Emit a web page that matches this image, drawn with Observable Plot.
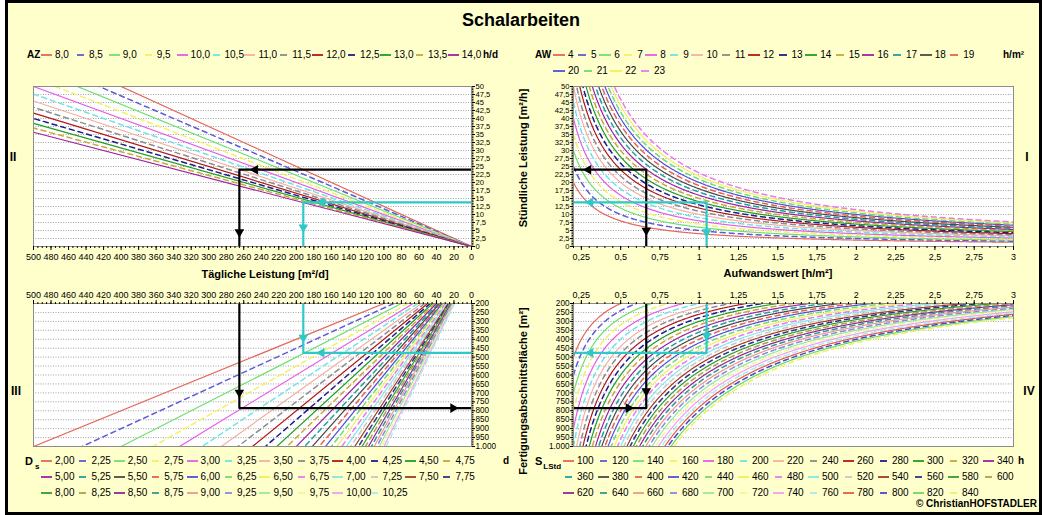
<!DOCTYPE html>
<html><head><meta charset="utf-8">
<script src="https://cdn.jsdelivr.net/npm/d3@7"></script>
<script src="https://cdn.jsdelivr.net/npm/@observablehq/plot@0.6"></script>
<style>
body{margin:0;background:#fff;}
#wrap{position:relative;width:1042px;height:515px;overflow:hidden;font-family:"Liberation Sans",Arial,sans-serif;color:#000;}
#border{position:absolute;left:5px;top:0;width:1031px;height:509px;border:3px solid #000;background:#ffffcc;}
.abs{position:absolute;white-space:nowrap;line-height:1;}
.q{position:absolute;}
.flex{position:absolute;display:flex;align-items:center;white-space:nowrap;font-size:10px;line-height:1;}
</style>
</head><body>
<div id="wrap"><div id="border"></div></div>
<script>
// ---------- data ----------
const azValues = [8.0, 8.5, 9.0, 9.5, 10.0, 10.5, 11.0, 11.5, 12.0, 12.5, 13.0, 13.5, 14.0];
const akValues = [4, 5, 6, 7, 8, 9, 10, 11, 12, 13, 14, 15, 16, 17, 18, 19, 20, 21, 22, 23];
const dsValues = [2.00, 2.25, 2.50, 2.75, 3.00, 3.25, 3.50, 3.75, 4.00, 4.25, 4.50, 4.75,
                  5.00, 5.25, 5.50, 5.75, 6.00, 6.25, 6.50, 6.75, 7.00, 7.25, 7.50, 7.75,
                  8.00, 8.25, 8.50, 8.75, 9.00, 9.25, 9.50, 9.75, 10.00, 10.25];
const slValues = [100, 120, 140, 160, 180, 200, 220, 240, 260, 280, 300, 320, 340,
                  360, 380, 400, 420, 440, 460, 480, 500, 520, 540, 560, 580, 600,
                  620, 640, 660, 680, 700, 720, 740, 760, 780, 800, 820, 840];
const seriesColors = ["#e4665c","#5c5cd6","#6ee06e","#f4f060","#e65ce6","#70e4e4","#f2b0a4","#8c8c8c",
  "#b01818","#1c1c8c","#1f9f1f","#c8a838","#a020a0","#20a0a0","#4a4a4a","#e86050","#5050d8","#70dc70",
  "#f0f058","#ec78ec","#80e8e8","#c8c8c8","#a03828","#30308c","#309c30","#b0a048","#902890","#309898",
  "#f09888","#8888e0","#98e898","#f4f4a0","#f0a0f0","#a8ecec","#e85848","#4848c8","#68d868","#f0f060"];

const lhTicks = [0, 2.5, 5, 7.5, 10, 12.5, 15, 17.5, 20, 22.5, 25, 27.5, 30, 32.5, 35, 37.5, 40, 42.5, 45, 47.5, 50];
const ldTicks = [0, 20, 40, 60, 80, 100, 120, 140, 160, 180, 200, 220, 240, 260, 280, 300, 320, 340, 360, 380, 400, 420, 440, 460, 480, 500];
const awTicks = [0.25, 0.5, 0.75, 1, 1.25, 1.5, 1.75, 2, 2.25, 2.5, 2.75, 3];
const areaTicks = [200, 250, 300, 350, 400, 450, 500, 550, 600, 650, 700, 750, 800, 850, 900, 950, 1000];

// guide paths (black, cyan)
const guideColors = ["#000000", "#2ec8c8"];
const guideAW = [0.663, 1.047];
const guideLh = [24.0, 13.8];
const guideLd = [265, 192];
const guideArea = [785, 476];
// arrow heads: [guide, x, y, direction]
const arrowsQ1 = [[0, 0.663, 5, "down"], [0, 0.295, 24, "left"], [1, 1.047, 4.5, "down"], [1, 0.308, 13.8, "left"]];
const arrowsQ2 = [[0, 247, 24, "left"], [0, 265, 4.5, "down"], [1, 171, 13.8, "left"], [1, 192, 6, "down"]];
const arrowsQ3 = [[0, 265, 698, "down"], [0, 21, 785, "right"], [1, 192, 390, "down"], [1, 171, 476, "left"]];
const arrowsQ4 = [[0, 0.55, 785, "right"], [0, 0.663, 690, "down"], [1, 1.047, 380, "down"], [1, 0.308, 476, "left"]];

// ---------- helpers ----------
const wrap = document.getElementById("wrap");
const rot = {up: 0, right: 90, down: 180, left: 270};
const fmtDec = d => String(d).replace(".", ",");
const fmtArea = d => d >= 1000 ? "1." + String(d).slice(1) : String(d);
const AWMIN = 0.2, AWMAX = 3;
const awGrid = d3.range(AWMIN, AWMAX + 1e-9, 0.005);
const dashOf = i => i % 2 ? "5,4" : null;
const widthOf = i => i % 2 ? 1.5 : 1.2;
const font = {fontFamily: "'Liberation Sans', Arial, sans-serif", fontSize: "9px", background: "transparent", overflow: "visible"};
const yFont = 7.6;

function seriesMark(data, i, x, y) {
  return Plot.line(data, {x, y, stroke: seriesColors[i], strokeWidth: widthOf(i), strokeDasharray: dashOf(i), clip: true});
}
function guideMarks(paths, arrows) {
  const m = [];
  paths.forEach((p, g) => m.push(Plot.line(p, {x: "x", y: "y", stroke: guideColors[g], strokeWidth: 2.2, clip: true})));
  [0, 1].forEach(g => {
    const a = arrows.filter(d => d[0] === g).map(d => ({x: d[1], y: d[2], r: rot[d[3]]}));
    m.push(Plot.dot(a, {x: "x", y: "y", symbol: "triangle2", r: 4.6, fill: guideColors[g], stroke: "none", rotate: "r"}));
  });
  return m;
}
function place(svg, left, top) {
  const d = document.createElement("div");
  d.className = "q"; d.style.left = left + "px"; d.style.top = top + "px";
  d.appendChild(svg); wrap.appendChild(d);
}
function addText(html, x, y, {size = 10, bold = false, align = "left", rotate = 0} = {}) {
  const el = document.createElement("div");
  el.className = "abs";
  el.innerHTML = html;
  el.style.left = x + "px"; el.style.top = y + "px";
  el.style.fontSize = size + "px";
  el.style.fontWeight = bold ? "bold" : "normal";
  const tx = align === "center" ? "-50%" : align === "right" ? "-100%" : "0";
  el.style.transform = `translate(${tx},-50%)` + (rotate ? ` rotate(${rotate}deg)` : "");
  wrap.appendChild(el);
}
function swatchSVG(i, w = 11) {
  const dashed = i % 2 === 1;
  const x1 = dashed ? 2 : 0, x2 = dashed ? w - 2 : w;
  return `<svg width="${w}" height="6" style="display:block"><line x1="${x1}" x2="${x2}" y1="3" y2="3" stroke="${seriesColors[i]}" stroke-width="1.8"/></svg>`;
}
function addSwatch(i, x, y, w = 11) {
  const el = document.createElement("div");
  el.className = "abs";
  el.innerHTML = swatchSVG(i, w);
  el.style.left = x + "px"; el.style.top = (y - 3) + "px";
  wrap.appendChild(el);
}
function gridMarks(ticks) {
  return Plot.gridY(ticks, {stroke: "#8a8a8a", strokeOpacity: 1, strokeDasharray: "1,1.5", strokeWidth: 0.8});
}

// ---------- Quadrant II (top left): Tägliche Leistung vs Stündliche Leistung ----------
{
  const marks = [Plot.frame({fill: "white", stroke: "none"}), gridMarks(lhTicks)];
  azValues.forEach((az, i) => marks.push(seriesMark([{x: 0, y: 0}, {x: 500, y: 500 / az}], i, "x", "y")));
  const g = [0, 1].map(k => [{x: 0, y: guideLh[k]}, {x: guideLd[k], y: guideLh[k]}, {x: guideLd[k], y: 0}]);
  marks.push(...guideMarks(g, arrowsQ2));
  marks.push(Plot.frame({stroke: "#8c8c8c"}));
  marks.push(Plot.axisY(lhTicks, {anchor: "right", tickSize: 3, tickPadding: 1, tickFormat: fmtDec, label: null, fontSize: yFont}));
  marks.push(Plot.axisY(d3.range(0, 50.01, 0.5), {anchor: "right", tickSize: 1.5, tickFormat: () => "", label: null}));
  marks.push(Plot.axisX(ldTicks, {anchor: "bottom", tickSize: 4, tickPadding: 3, tickFormat: d => String(d), label: null}));
  marks.push(Plot.axisX(d3.range(0, 501, 5), {anchor: "bottom", tickSize: 2, tickFormat: () => "", label: null}));
  place(Plot.plot({width: 510, height: 200, marginLeft: 33, marginRight: 39, marginTop: 6, marginBottom: 34,
    x: {domain: [500, 0]}, y: {domain: [0, 50]}, style: font, marks}), 0, 80);
}

// ---------- Quadrant I (top right): Aufwandswert vs Stündliche Leistung ----------
{
  const marks = [Plot.frame({fill: "white", stroke: "none"}), gridMarks(lhTicks)];
  akValues.forEach((ak, i) => marks.push(seriesMark(awGrid.map(aw => ({x: aw, y: ak / aw})).filter(d => d.y < 80), i, "x", "y")));
  const g = [0, 1].map(k => [{x: guideAW[k], y: 0}, {x: guideAW[k], y: guideLh[k]}, {x: AWMIN, y: guideLh[k]}]);
  marks.push(...guideMarks(g, arrowsQ1));
  marks.push(Plot.frame({stroke: "#8c8c8c"}));
  marks.push(Plot.axisY(lhTicks, {anchor: "left", tickSize: 3, tickPadding: 1, tickFormat: fmtDec, label: null, fontSize: yFont}));
  marks.push(Plot.axisY(d3.range(0, 50.01, 0.5), {anchor: "left", tickSize: 1.5, tickFormat: () => "", label: null}));
  marks.push(Plot.axisX(awTicks, {anchor: "bottom", tickSize: 4, tickPadding: 3, tickFormat: fmtDec, label: null}));
  marks.push(Plot.axisX(d3.range(0.2, 3.001, 0.05), {anchor: "bottom", tickSize: 2, tickFormat: () => "", label: null}));
  place(Plot.plot({width: 530, height: 200, marginLeft: 63, marginRight: 27, marginTop: 6, marginBottom: 34,
    x: {domain: [AWMIN, AWMAX]}, y: {domain: [0, 50]}, style: font, marks}), 510, 80);
}

// ---------- Quadrant III (bottom left): Tägliche Leistung vs Fläche ----------
{
  const marks = [Plot.frame({fill: "white", stroke: "none"}), gridMarks(areaTicks)];
  dsValues.forEach((ds, i) => marks.push(seriesMark([{x: 200 / ds, y: 200}, {x: 1000 / ds, y: 1000}], i, "x", "y")));
  const g = [0, 1].map(k => [{x: guideLd[k], y: 200}, {x: guideLd[k], y: guideArea[k]}, {x: 0, y: guideArea[k]}]);
  marks.push(...guideMarks(g, arrowsQ3));
  marks.push(Plot.frame({stroke: "#8c8c8c"}));
  marks.push(Plot.axisY(areaTicks, {anchor: "right", tickSize: 3, tickPadding: 1, tickFormat: fmtArea, label: null, fontSize: 8.2}));
  marks.push(Plot.axisY(d3.range(200, 1001, 10), {anchor: "right", tickSize: 1.5, tickFormat: () => "", label: null}));
  marks.push(Plot.axisX(ldTicks, {anchor: "top", tickSize: 4, tickPadding: 2, tickFormat: d => String(d), label: null}));
  marks.push(Plot.axisX(d3.range(0, 501, 5), {anchor: "top", tickSize: 2, tickFormat: () => "", label: null}));
  place(Plot.plot({width: 510, height: 185, marginLeft: 33, marginRight: 39, marginTop: 23, marginBottom: 19,
    x: {domain: [500, 0]}, y: {domain: [200, 1000], reverse: true}, style: font, marks}), 0, 280);
}

// ---------- Quadrant IV (bottom right): Aufwandswert vs Fläche ----------
{
  const marks = [Plot.frame({fill: "white", stroke: "none"}), gridMarks(areaTicks)];
  slValues.forEach((s, i) => marks.push(seriesMark(awGrid.map(aw => ({x: aw, y: s / aw})).filter(d => d.y < 1400), i, "x", "y")));
  const g = [0, 1].map(k => [{x: AWMIN, y: guideArea[k]}, {x: guideAW[k], y: guideArea[k]}, {x: guideAW[k], y: 200}]);
  marks.push(...guideMarks(g, arrowsQ4));
  marks.push(Plot.frame({stroke: "#8c8c8c"}));
  marks.push(Plot.axisY(areaTicks, {anchor: "left", tickSize: 3, tickPadding: 1, tickFormat: fmtArea, label: null, fontSize: 8.2}));
  marks.push(Plot.axisY(d3.range(200, 1001, 10), {anchor: "left", tickSize: 1.5, tickFormat: () => "", label: null}));
  marks.push(Plot.axisX(awTicks, {anchor: "top", tickSize: 4, tickPadding: 2, tickFormat: fmtDec, label: null}));
  marks.push(Plot.axisX(d3.range(0.2, 3.001, 0.05), {anchor: "top", tickSize: 2, tickFormat: () => "", label: null}));
  place(Plot.plot({width: 530, height: 185, marginLeft: 63, marginRight: 27, marginTop: 23, marginBottom: 19,
    x: {domain: [AWMIN, AWMAX]}, y: {domain: [200, 1000], reverse: true}, style: font, marks}), 510, 280);
}

// ---------- texts ----------
addText("Schalarbeiten", 521, 20, {size: 18, bold: true, align: "center"});
addText("Tägliche Leistung [m²/d]", 265, 274, {size: 11, bold: true, align: "center"});
addText("Aufwandswert [h/m²]", 778, 273, {size: 11, bold: true, align: "center"});
addText("Stündliche Leistung [m²/h]", 523, 158, {size: 11, bold: true, align: "center", rotate: -90});
addText("Fertigungsabschnittsfläche [m²]", 523, 391, {size: 11, bold: true, align: "center", rotate: -90});
addText("II", 13, 157, {size: 12, bold: true, align: "center"});
addText("I", 1027, 157, {size: 12, bold: true, align: "center"});
addText("III", 16, 391, {size: 12, bold: true, align: "center"});
addText("IV", 1029, 391, {size: 12, bold: true, align: "center"});
addText("© ChristianHOFSTADLER", 1037, 504, {size: 10, bold: true, align: "right"});

// ---------- legends ----------
// AZ (top left)
addText("AZ", 27, 55, {size: 10, bold: true});
azValues.forEach((v, i) => {
  const tx = 55 + i * 33.9;
  addSwatch(i, tx - 14, 55);
  addText(v.toFixed(1).replace(".", ","), tx, 55, {size: 10});
});
addText("h/d", 483, 55, {size: 10, bold: true});

// AW (top right)
addText("AW", 535, 55, {size: 10, bold: true});
function flexRow(values, startIndex, x, y) {
  const row = document.createElement("div");
  row.className = "flex";
  row.style.left = x + "px"; row.style.top = (y - 6) + "px"; row.style.height = "12px";
  values.forEach((v, j) => {
    const i = startIndex + j;
    row.insertAdjacentHTML("beforeend", swatchSVG(i, 12) + `<span style="margin-left:3px;margin-right:2.5px">${v}</span>`);
  });
  wrap.appendChild(row);
}
flexRow(akValues.slice(0, 16), 0, 553, 55);
flexRow(akValues.slice(16), 16, 553, 71);
addText("h/m²", 1003, 55, {size: 10, bold: true});

// D_s (bottom left)
addText("D<span style='font-size:8px;position:relative;top:4px;margin-left:2px'>s</span>", 25, 461, {size: 11, bold: true});
dsValues.forEach((v, i) => {
  const r = Math.floor(i / 12), c = i % 12;
  const tx = 55 + c * 36.4, ty = 461 + r * 16;
  addSwatch(i, tx - 14, ty);
  addText(v.toFixed(2).replace(".", ","), tx, ty, {size: 10});
});
addText("d", 503, 461, {size: 10, bold: true});

// S_LStd (bottom right)
addText("S<span style='font-size:8px;position:relative;top:4px;margin-left:1px'>LStd</span>", 535, 461, {size: 11, bold: true});
slValues.forEach((v, i) => {
  const r = Math.floor(i / 13), c = i % 13;
  const tx = 577 + c * 35, ty = 461 + r * 16;
  addSwatch(i, tx - 14, ty);
  addText(String(v), tx, ty, {size: 10});
});
addText("h", 1018, 461, {size: 10, bold: true});
</script>
</body></html>
